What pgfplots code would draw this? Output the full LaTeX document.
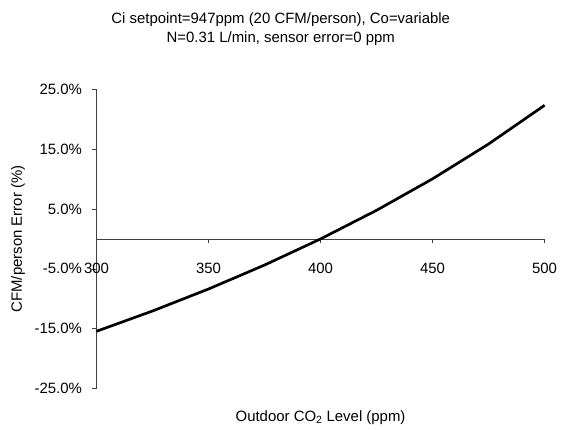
\documentclass[border=0pt]{standalone}
\usepackage{fontspec}
\setmainfont{Liberation Sans}
\usepackage{pgfplots}
\pgfplotsset{compat=1.18}

\begin{document}
\fontsize{15bp}{18bp}\selectfont
\begin{tikzpicture}
\begin{axis}[
scale only axis,
width=450bp,
height=300bp,
xmin=300, xmax=500,
ymin=-25, ymax=25,
axis x line=middle,
axis y line=left,
axis line style={-, black!75, line width=0.6bp},
hide obscured x ticks=false,
xtick={300,350,400,450,500},
ytick={-25,-15,-5,5,15,25},
yticklabels={-25.0\%,-15.0\%,-5.0\%,5.0\%,15.0\%,25.0\%},
/pgf/number format/assume math mode=true,
/pgf/number format/set thousands separator={},
x tick style={black!75, line width=0.6bp},
y tick style={black!75, line width=0.6bp},
tick align=outside,
major tick length=4.5bp,
tick label style={font=\fontsize{15bp}{18bp}\selectfont},
xticklabel style={anchor=center, yshift=-25bp},
yticklabel style={xshift=-5bp},
xlabel={Outdoor CO\textsubscript{2} Level (ppm)},
ylabel={CFM/person Error (\%)},
xlabel style={at={(axis description cs:0.5,-0.097)}, anchor=center},
ylabel style={at={(axis description cs:-0.1756,0.5)}, anchor=center},
label style={font=\fontsize{15bp}{18bp}\selectfont},
clip=false,
]
\addplot[black, line width=2.7bp, sharp plot] coordinates {
(300,-15.46) (325,-12.06) (350,-8.38) (375,-4.37) (400,0.00)
(425,4.79) (450,10.06) (475,15.89) (500,22.37)
};
\end{axis}
\node[anchor=center, font=\fontsize{15bp}{18bp}\selectfont] at (185bp,370bp)
  {Ci setpoint=947ppm (20 CFM/person), Co=variable};
\node[anchor=center, font=\fontsize{15bp}{18bp}\selectfont] at (185bp,351bp)
  {N=0.31 L/min, sensor error=0 ppm};
\path[use as bounding box] (-97bp,-37bp) rectangle (465bp,390bp);
\end{tikzpicture}
\end{document}
